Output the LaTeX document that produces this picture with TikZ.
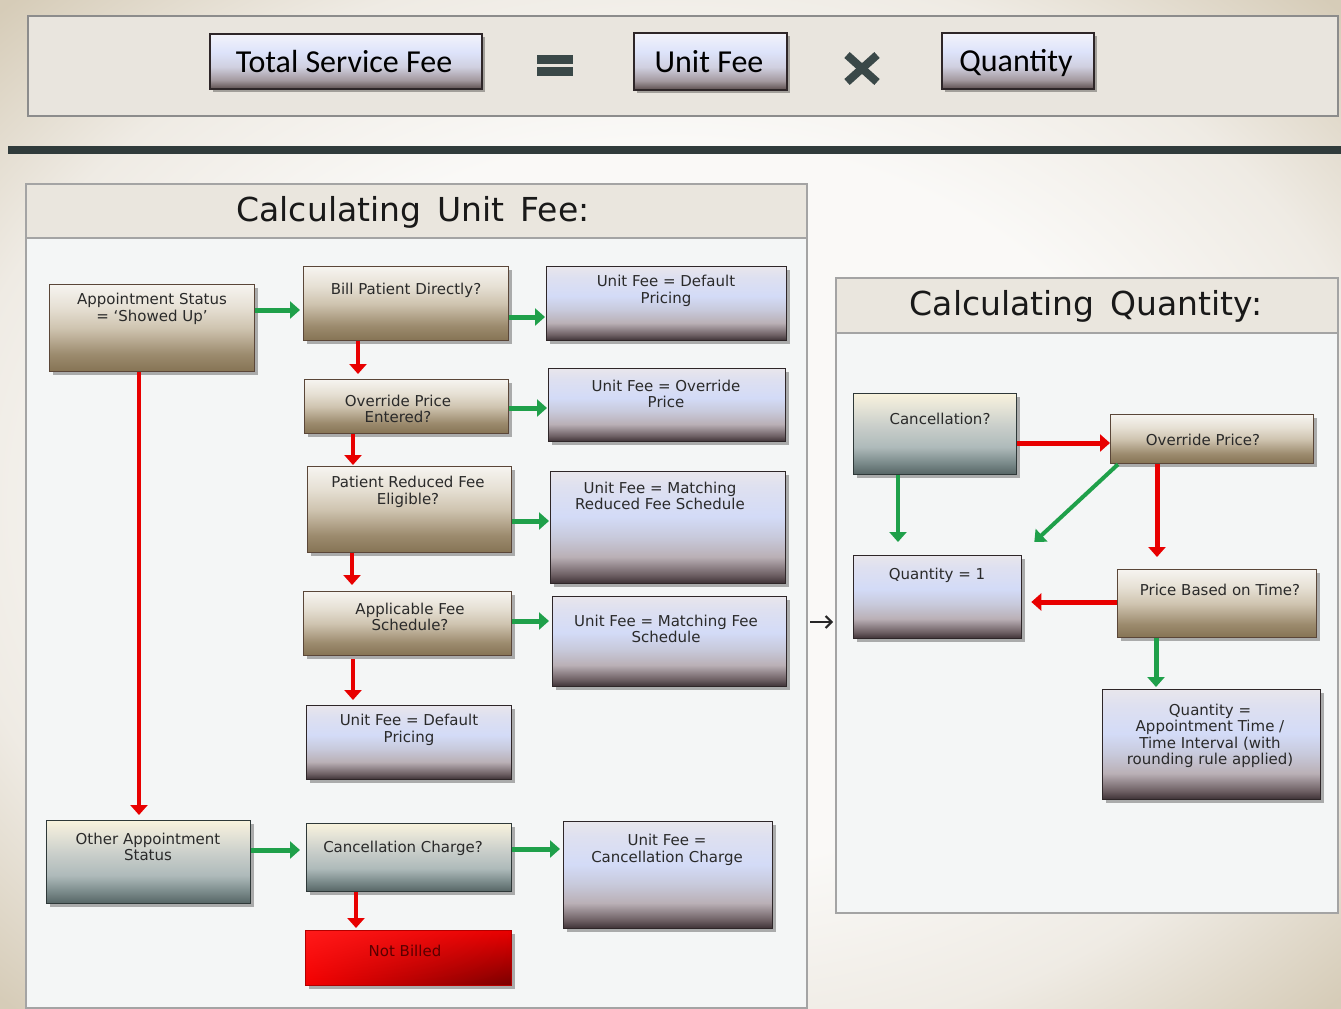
\documentclass[tikz,border=0pt]{standalone}
\usepackage{fontspec}
\setmainfont{DejaVu Sans}
\newfontfamily\calib{Carlito}
\usetikzlibrary{arrows.meta,shadows,shadings,calc}

\definecolor{bgC}{HTML}{FAF9F7}
\definecolor{bgM}{HTML}{EFEBE4}
\definecolor{bgO}{HTML}{D6CCB8}
\definecolor{bl0}{HTML}{3C3034}
\definecolor{bl1}{HTML}{6E6064}
\definecolor{bl2}{HTML}{BAB0B6}
\definecolor{bl3}{HTML}{C8CADC}
\definecolor{bl4}{HTML}{D3DBF7}
\definecolor{bl5}{HTML}{DEE0F0}
\definecolor{bl6}{HTML}{E8E6EC}
\definecolor{br0}{HTML}{857354}
\definecolor{br1}{HTML}{9C8B6E}
\definecolor{br2}{HTML}{CFC4B0}
\definecolor{br3}{HTML}{E6E0D4}
\definecolor{br4}{HTML}{F6F4F0}
\definecolor{gr0}{HTML}{556464}
\definecolor{gr1}{HTML}{7E8E8E}
\definecolor{gr2}{HTML}{AEBABA}
\definecolor{gr3}{HTML}{C9CECA}
\definecolor{gr4}{HTML}{E8E6D8}
\definecolor{gr5}{HTML}{F8F2DC}
\definecolor{tp0}{HTML}{5E5050}
\definecolor{tp1}{HTML}{A49AA0}
\definecolor{tp2}{HTML}{D0D0E0}
\definecolor{tp3}{HTML}{DDE3FA}
\definecolor{tp4}{HTML}{F3F3FA}
\definecolor{rdA}{HTML}{FF1A1A}
\definecolor{rdB}{HTML}{E80000}
\definecolor{rdC}{HTML}{F40000}
\definecolor{rdD}{HTML}{780000}
\definecolor{brBorder}{HTML}{5A4638}
\definecolor{blBorder}{HTML}{2E2628}
\definecolor{grBorder}{HTML}{2E3838}
\definecolor{panelBorder}{HTML}{A4A4A4}
\definecolor{panelBody}{HTML}{F4F6F6}
\definecolor{panelHead}{HTML}{EAE6DE}
\definecolor{topPanel}{HTML}{E9E5DE}
\definecolor{slate}{HTML}{303B3B}
\definecolor{sym}{HTML}{3A4848}
\definecolor{arrGreen}{HTML}{1FA04A}
\definecolor{arrRed}{HTML}{E80000}
\definecolor{txtcol}{HTML}{2A2A2A}

\pgfdeclareradialshading{bgshade}{\pgfpointorigin}{color(0bp)=(bgC); color(18bp)=(bgC); color(27bp)=(bgM); color(35bp)=(bgO); color(50bp)=(bgO)}
\pgfdeclareverticalshading{blueshade}{100bp}{color(0bp)=(bl0); color(25bp)=(bl0); color(29bp)=(bl1); color(37bp)=(bl2); color(46bp)=(bl3); color(55bp)=(bl4); color(68bp)=(bl5); color(75bp)=(bl6); color(100bp)=(bl6)}
\pgfdeclareverticalshading{brownshade}{100bp}{color(0bp)=(br0); color(25bp)=(br0); color(35bp)=(br1); color(50bp)=(br2); color(62bp)=(br3); color(75bp)=(br4); color(100bp)=(br4)}
\pgfdeclareverticalshading{grayshade}{100bp}{color(0bp)=(gr0); color(25bp)=(gr0); color(33bp)=(gr1); color(42bp)=(gr2); color(55bp)=(gr3); color(68bp)=(gr4); color(75bp)=(gr5); color(100bp)=(gr5)}
\pgfdeclareverticalshading{topshade}{100bp}{color(0bp)=(tp0); color(25bp)=(tp0); color(33bp)=(tp1); color(45bp)=(tp2); color(58bp)=(tp3); color(75bp)=(tp4); color(100bp)=(tp4)}

\begin{document}
\begin{tikzpicture}[x=1pt,y=-1pt,
  box/.style={rectangle, anchor=north west, inner sep=0pt, line width=1.3pt,
    drop shadow={shadow xshift=3pt, shadow yshift=-3pt, opacity=0.3, fill=black}},
  brownbox/.style={box, draw=brBorder, shading=brownshade},
  bluebox/.style={box, draw=blBorder, shading=blueshade},
  graybox/.style={box, draw=grBorder, shading=grayshade},
  redbox/.style={box, draw=red!70!black, upper left=rdA, upper right=rdB, lower left=rdC, lower right=rdD},
  topbox/.style={box, draw=blBorder, line width=1.5pt, shading=topshade},
  txt/.style={inner sep=0pt, align=center, text=txtcol, font=\fontsize{15}{16.5}\selectfont},
  toptxt/.style={inner sep=0pt, anchor=base, text=black, font=\calib\fontsize{32}{36}\selectfont},
  title/.style={inner sep=0pt, text=black!90, font=\fontsize{33}{38}\selectfont},
  panel/.style={rectangle, anchor=north west, inner sep=0pt, draw=panelBorder, line width=2pt},
  garrow/.style={draw=arrGreen, line width=5pt, -{Triangle[width=17pt,length=10pt]}},
  rarrow/.style={draw=arrRed, line width=4.5pt, -{Triangle[width=17pt,length=10pt]}},
]
\useasboundingbox (0,0) rectangle (1341,1009);

% background
\shade[shading=bgshade] (0,0) rectangle (1341,1009);

% top equation panel
\node[panel, draw=black!45, fill=topPanel, minimum width=1310pt, minimum height=100pt] (TP) at (27,15) {};
\node[topbox, minimum width=272pt, minimum height=55pt] (TS) at (209,33) {};
\node[toptxt] (TSt) at (344,72) {Total Service Fee};
\node[topbox, minimum width=153pt, minimum height=57pt] (UF) at (633,32) {};
\node[toptxt] (UFt) at (709,72) {Unit Fee};
\node[topbox, minimum width=152pt, minimum height=56pt] (QT) at (941,32) {};
\node[toptxt] (QTt) at (1016,71) {Quantity};
% equals and times signs
\fill[sym] (537,55) rectangle (573,64);
\fill[sym] (537,67) rectangle (573,76);
\draw[sym, line width=8pt] (847,55) -- (877,82);
\draw[sym, line width=8pt] (847,82) -- (877,55);

% dark bar
\fill[slate] (8,146) rectangle (1341,154);

% left panel
\node[panel, fill=panelBody, minimum width=781pt, minimum height=770pt] (LB) at (25,237) {};
\node[panel, fill=panelHead, minimum width=781pt, minimum height=54pt] (LH) at (25,183) {};
\node[title] (LHt) at (413,212) {Calculating\, Unit\, Fee:};

% right panel
\node[panel, fill=panelBody, minimum width=502pt, minimum height=580pt] (RB) at (835,332) {};
\node[panel, fill=panelHead, minimum width=502pt, minimum height=55pt] (RH) at (835,277) {};
\node[title] (RHt) at (1086,306) {Calculating\, Quantity:};

% left boxes
\node[brownbox, minimum width=205pt, minimum height=87pt] (A) at (49,284) {};
\node[txt] (At) at (152,309) {Appointment Status\\= ‘Showed Up’};
\node[brownbox, minimum width=205pt, minimum height=74pt] (B) at (303,266) {};
\node[txt] (Bt) at (406,290) {Bill Patient Directly?};
\node[bluebox, minimum width=240pt, minimum height=74pt] (C) at (546,266) {};
\node[txt] (Ct) at (666,291) {Unit Fee = Default\\Pricing};
\node[brownbox, minimum width=204pt, minimum height=54pt] (D) at (304,379) {};
\node[txt] (Dt) at (398,409) {Override Price\\Entered?};
\node[bluebox, minimum width=237pt, minimum height=73pt] (E) at (548,368) {};
\node[txt] (Et) at (666,394) {Unit Fee = Override\\Price};
\node[brownbox, minimum width=204pt, minimum height=86pt] (F) at (307,466) {};
\node[txt] (Ft) at (408,492) {Patient Reduced Fee\\Eligible?};
\node[bluebox, minimum width=235pt, minimum height=112pt] (G) at (550,471) {};
\node[txt] (Gt) at (660,496) {Unit Fee = Matching\\Reduced Fee Schedule};
\node[brownbox, minimum width=208pt, minimum height=64pt] (H) at (303,591) {};
\node[txt] (Ht) at (410,617) {Applicable Fee\\Schedule?};
\node[bluebox, minimum width=234pt, minimum height=90pt] (I) at (552,596) {};
\node[txt] (It) at (666,629) {Unit Fee = Matching Fee\\Schedule};
\node[bluebox, minimum width=205pt, minimum height=74pt] (J) at (306,705) {};
\node[txt] (Jt) at (409,730) {Unit Fee = Default\\Pricing};
\node[graybox, minimum width=204pt, minimum height=83pt] (K) at (46,820) {};
\node[txt] (Kt) at (148,847) {Other Appointment\\Status};
\node[graybox, minimum width=205pt, minimum height=68pt] (L) at (306,823) {};
\node[txt] (Lt) at (403,848) {Cancellation Charge?};
\node[bluebox, minimum width=209pt, minimum height=107pt] (M) at (563,821) {};
\node[txt] (Mt) at (667,850) {Unit Fee =\\Cancellation Charge};
\node[redbox, minimum width=206pt, minimum height=55pt] (N) at (305,930) {};
\node[txt, text=red!35!black] (Nt) at (405,951) {Not Billed};

% right boxes
\node[graybox, minimum width=163pt, minimum height=81pt] (P) at (853,393) {};
\node[txt] (Pt) at (940,419) {Cancellation?};
\node[brownbox, minimum width=203pt, minimum height=49pt] (Q) at (1110,414) {};
\node[txt] (Qt) at (1203,440) {Override Price?};
\node[bluebox, minimum width=168pt, minimum height=83pt] (R) at (853,555) {};
\node[txt] (Rt) at (937,575) {Quantity = 1};
\node[brownbox, minimum width=199pt, minimum height=68pt] (S) at (1117,569) {};
\node[txt] (St) at (1220,590) {Price Based on Time?};
\node[bluebox, minimum width=218pt, minimum height=110pt] (T) at (1102,689) {};
\node[txt] (Tt) at (1210,736) {Quantity =\\Appointment Time /\\Time Interval (with\\rounding rule applied)};

% left connectors
\draw[garrow] (A.east |- 0,310) -- ([xshift=-3pt]B.west |- 0,310);
\draw[garrow] (B.east |- 0,317) -- ([xshift=-1pt]C.west |- 0,317);
\draw[rarrow] (B.south -| 358,0) -- ([yshift=5pt]D.north -| 358,0);
\draw[garrow] (D.east |- 0,408) -- ([xshift=-1pt]E.west |- 0,408);
\draw[rarrow] (D.south -| 353,0) -- ([yshift=1pt]F.north -| 353,0);
\draw[garrow] (F.east |- 0,521) -- ([xshift=-1pt]G.west |- 0,521);
\draw[rarrow] (F.south -| 352,0) -- ([yshift=6pt]H.north -| 352,0);
\draw[garrow] (H.east |- 0,621) -- ([xshift=-3pt]I.west |- 0,621);
\draw[rarrow] ([yshift=-3pt]H.south -| 353,0) -- ([yshift=5pt]J.north -| 353,0);
\draw[rarrow] (A.south -| 139,0) -- ([yshift=5pt]K.north -| 139,0);
\draw[garrow] (K.east |- 0,850) -- ([xshift=-6pt]L.west |- 0,850);
\draw[garrow] (L.east |- 0,849) -- ([xshift=-3pt]M.west |- 0,849);
\draw[rarrow] (L.south -| 356,0) -- ([yshift=2pt]N.north -| 356,0);

% panel to panel
\draw[black!85, line width=2pt, -{Straight Barb[length=6pt,width=12pt]}] ([xshift=2pt]LB.east |- 0,622) -- ([xshift=-2pt]RB.west |- 0,622);

% right connectors
\draw[rarrow, line width=5pt] (P.east |- 0,443) -- (Q.west |- 0,443);
\draw[garrow, line width=4pt] ([xshift=8pt]Q.south west) -- ($(R.north east)+(12,-13)$);
\draw[garrow, line width=4pt] (P.south -| 898,0) -- ([yshift=13pt]R.north -| 898,0);
\draw[rarrow, line width=5pt] (Q.south -| 1157,0) -- ([yshift=12pt]S.north -| 1157,0);
\draw[rarrow, line width=5pt] (S.west |- 0,602) -- ([xshift=9pt]R.east |- 0,602);
\draw[garrow] (S.south -| 1156,0) -- ([yshift=2pt]T.north -| 1156,0);
\end{tikzpicture}
\end{document}
